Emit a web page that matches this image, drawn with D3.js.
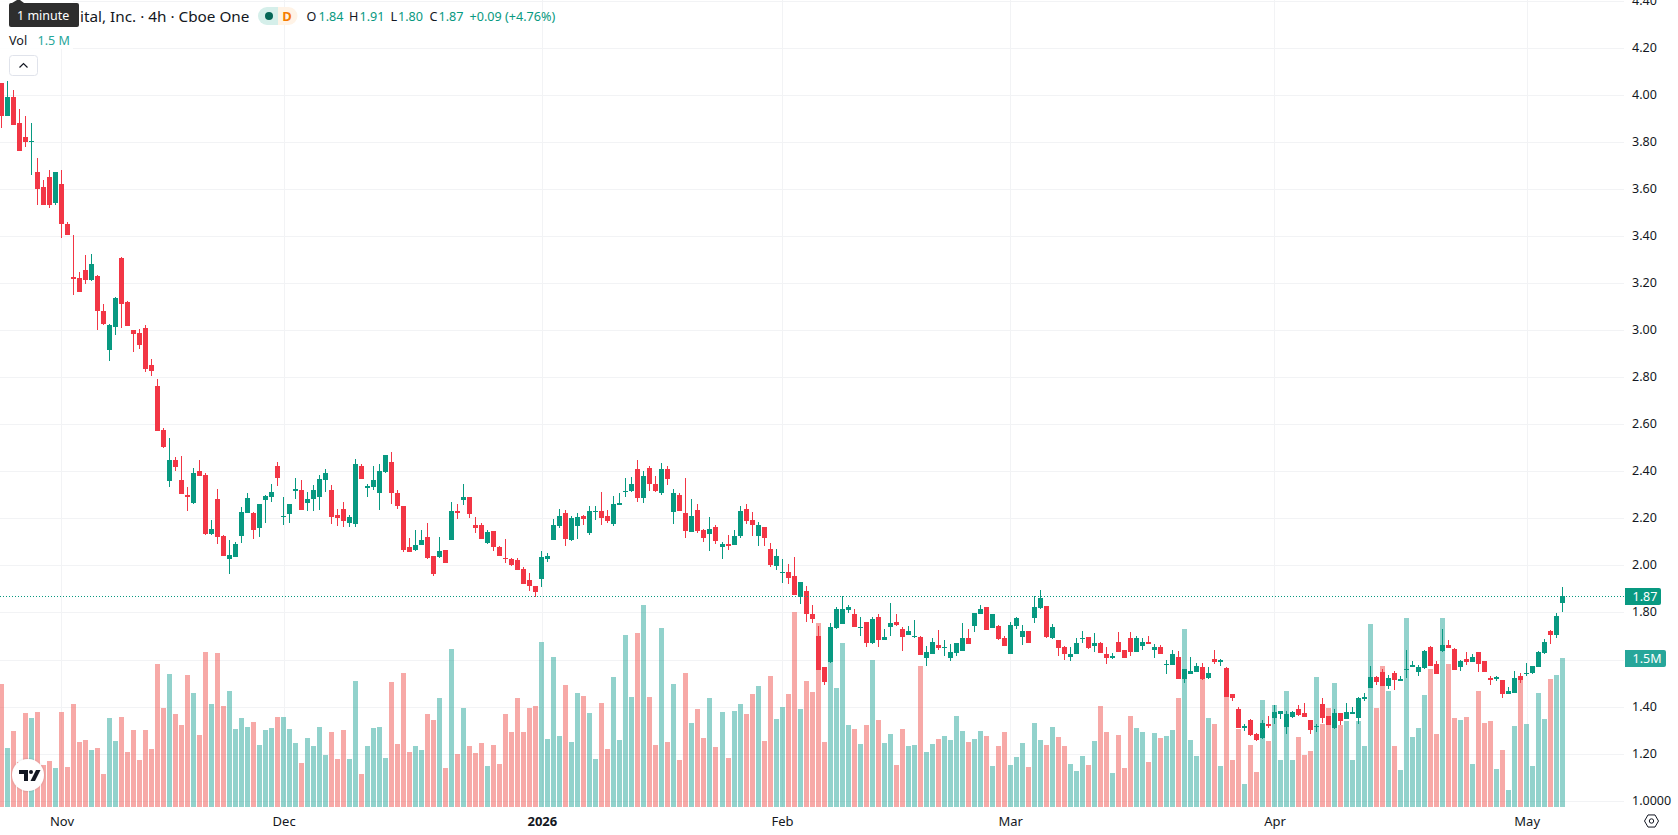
<!DOCTYPE html>
<html>
<head>
<meta charset="utf-8">
<title>4h candlestick chart</title>
<script src="https://cdn.jsdelivr.net/npm/d3@7/dist/d3.min.js"></script>
<style>
html,body{margin:0;padding:0;background:#fff;overflow:hidden}
svg{display:block;font-family:"Noto Sans",sans-serif}
</style>
</head>
<body>
<svg id="chart" width="1678" height="835"></svg>
<script>
// 4-hour session bars, oldest first
const opens = [4.05,3.91,3.99,3.88,3.82,3.80,3.67,3.61,3.65,3.54,3.62,3.45,3.225,3.22,3.255,3.213,3.23,3.081,2.915,3.013,
3.306,3.12,3.0,2.988,3.009,2.852,2.762,2.575,2.359,2.448,2.363,2.299,2.265,2.401,2.384,2.134,2.282,2.125,2.027,2.036,
2.125,2.223,2.223,2.159,2.278,2.291,2.422,2.206,2.218,2.316,2.32,2.265,2.282,2.291,2.363,2.32,2.214,2.24,2.18,2.176,
2.422,2.329,2.333,2.308,2.397,2.44,2.308,2.252,2.078,2.065,2.087,2.121,2.04,2.036,2.065,2.108,2.231,2.278,2.291,2.172,
2.172,2.095,2.146,2.078,2.032,2.027,2.023,1.985,1.938,1.912,1.942,2.027,2.108,2.167,2.223,2.108,2.167,2.21,2.138,2.227,
2.231,2.21,2.176,2.257,2.312,2.316,2.41,2.286,2.414,2.346,2.308,2.41,2.227,2.299,2.223,2.142,2.235,2.15,2.133,2.163,
2.078,2.091,2.087,2.125,2.24,2.193,2.125,2.163,2.07,1.997,1.968,1.972,1.955,1.866,1.891,1.793,1.70,1.568,1.59,1.734,
1.751,1.81,1.793,1.734,1.759,1.67,1.781,1.683,1.738,1.759,1.73,1.704,1.696,1.696,1.607,1.623,1.662,1.649,1.607,1.628,
1.636,1.691,1.742,1.793,1.823,1.734,1.742,1.691,1.623,1.742,1.696,1.721,1.776,1.819,1.827,1.691,1.683,1.653,1.611,1.623,
1.687,1.696,1.657,1.67,1.623,1.606,1.674,1.64,1.691,1.632,1.658,1.675,1.64,1.653,1.577,1.577,1.611,1.517,1.538,1.547,
1.568,1.521,1.602,1.59,1.564,1.453,1.39,1.309,1.343,1.283,1.267,1.326,1.351,1.368,1.313,1.356,1.39,1.373,1.343,1.313,
1.411,1.36,1.309,1.373,1.347,1.368,1.351,1.432,1.479,1.526,1.547,1.487,1.543,1.509,1.555,1.568,1.547,1.564,1.653,1.581,
1.636,1.662,1.645,1.568,1.602,1.59,1.632,1.594,1.521,1.517,1.513,1.453,1.458,1.53,1.54,1.543,1.568,1.628,1.721,1.704,1.84];

const closes = [3.91,3.99,3.87,3.76,3.80,3.805,3.60,3.53,3.53,3.67,3.45,3.405,3.217,3.162,3.213,3.281,3.081,3.026,3.022,3.136,
3.111,3.017,2.983,2.937,2.835,2.826,2.571,2.503,2.448,2.418,2.303,2.291,2.393,2.38,2.134,2.155,2.121,2.04,2.044,2.091,
2.227,2.286,2.15,2.261,2.296,2.312,2.371,2.21,2.261,2.325,2.236,2.282,2.32,2.367,2.393,2.206,2.202,2.189,2.206,2.431,
2.367,2.338,2.363,2.401,2.469,2.308,2.252,2.065,2.057,2.087,2.108,2.031,1.964,2.061,2.01,2.231,2.223,2.291,2.218,2.159,
2.112,2.142,2.078,2.04,2.027,2.002,1.98,1.921,1.912,1.887,2.036,2.04,2.172,2.21,2.112,2.2,2.206,2.197,2.231,2.231,
2.201,2.189,2.261,2.265,2.316,2.346,2.286,2.38,2.346,2.316,2.41,2.367,2.308,2.231,2.146,2.21,2.146,2.116,2.155,2.104,
2.091,2.082,2.125,2.231,2.189,2.172,2.172,2.116,2.002,2.04,1.972,1.946,1.874,1.93,1.793,1.772,1.555,1.504,1.738,1.815,
1.815,1.823,1.738,1.738,1.67,1.772,1.683,1.696,1.755,1.747,1.696,1.721,1.70,1.619,1.632,1.674,1.649,1.653,1.632,1.67,
1.691,1.666,1.798,1.815,1.725,1.793,1.687,1.657,1.747,1.776,1.721,1.67,1.823,1.861,1.696,1.738,1.649,1.623,1.623,1.67,
1.691,1.649,1.67,1.628,1.606,1.615,1.632,1.606,1.632,1.691,1.675,1.666,1.653,1.623,1.581,1.623,1.517,1.56,1.551,1.572,
1.517,1.543,1.59,1.598,1.441,1.437,1.309,1.318,1.279,1.258,1.33,1.317,1.377,1.381,1.368,1.377,1.364,1.356,1.30,1.317,
1.351,1.322,1.373,1.339,1.377,1.377,1.437,1.441,1.526,1.505,1.487,1.521,1.513,1.517,1.56,1.577,1.568,1.636,1.572,1.538,
1.662,1.649,1.556,1.594,1.59,1.611,1.581,1.547,1.513,1.526,1.453,1.466,1.521,1.513,1.543,1.572,1.632,1.675,1.704,1.785,1.87];

const highs = [4.05,4.06,4.02,3.94,3.91,3.88,3.73,3.64,3.68,3.67,3.68,3.46,3.404,3.247,3.32,3.323,3.234,3.11,3.025,3.14,
3.31,3.124,3.0,3.005,3.022,2.877,2.792,2.584,2.542,2.461,2.465,2.333,2.414,2.448,2.393,2.193,2.325,2.129,2.108,2.10,
2.248,2.308,2.227,2.261,2.299,2.346,2.44,2.291,2.261,2.371,2.363,2.312,2.342,2.384,2.41,2.342,2.24,2.269,2.214,2.452,
2.431,2.346,2.422,2.431,2.469,2.482,2.32,2.252,2.116,2.15,2.15,2.18,2.04,2.121,2.065,2.269,2.261,2.346,2.291,2.206,
2.18,2.15,2.146,2.082,2.112,2.03,2.03,1.993,1.968,1.912,2.061,2.053,2.197,2.24,2.235,2.21,2.223,2.214,2.252,2.252,
2.312,2.235,2.295,2.308,2.371,2.376,2.448,2.401,2.422,2.38,2.435,2.422,2.325,2.308,2.371,2.282,2.261,2.155,2.206,2.172,
2.099,2.129,2.15,2.252,2.261,2.227,2.184,2.163,2.095,2.07,2.027,2.006,2.036,1.93,1.912,1.832,1.742,1.568,1.755,1.823,
1.87,1.832,1.815,1.781,1.759,1.781,1.793,1.73,1.84,1.793,1.738,1.742,1.768,1.70,1.657,1.691,1.725,1.683,1.666,1.67,
1.755,1.73,1.798,1.832,1.823,1.793,1.747,1.70,1.759,1.781,1.747,1.721,1.87,1.895,1.827,1.751,1.683,1.657,1.653,1.691,
1.721,1.696,1.712,1.674,1.653,1.628,1.717,1.64,1.717,1.70,1.691,1.70,1.666,1.662,1.598,1.64,1.636,1.56,1.611,1.585,
1.585,1.568,1.64,1.602,1.568,1.453,1.398,1.326,1.347,1.287,1.343,1.36,1.407,1.381,1.381,1.381,1.407,1.415,1.343,1.326,
1.437,1.36,1.39,1.373,1.415,1.398,1.441,1.458,1.572,1.53,1.56,1.534,1.551,1.53,1.64,1.594,1.577,1.64,1.657,1.594,
1.73,1.683,1.649,1.598,1.632,1.623,1.632,1.594,1.53,1.53,1.513,1.483,1.551,1.543,1.585,1.572,1.636,1.687,1.725,1.798,1.91];

const lows = [3.86,3.91,3.87,3.76,3.78,3.66,3.53,3.53,3.52,3.53,3.39,3.405,3.15,3.162,3.196,3.21,3.0,3.02,2.869,2.979,
3.009,3.017,2.907,2.92,2.822,2.805,2.571,2.499,2.333,2.401,2.303,2.231,2.261,2.38,2.129,2.129,2.091,2.04,1.964,2.035,
2.095,2.223,2.112,2.121,2.18,2.269,2.337,2.172,2.18,2.282,2.236,2.231,2.231,2.236,2.312,2.176,2.167,2.163,2.163,2.163,
2.367,2.291,2.32,2.236,2.393,2.261,2.24,2.057,2.057,2.061,2.087,2.027,1.955,2.031,2.01,2.108,2.197,2.257,2.20,2.138,
2.112,2.091,2.061,2.04,2.01,1.998,1.98,1.921,1.891,1.866,1.908,2.014,2.108,2.16,2.082,2.105,2.112,2.172,2.129,2.193,
2.172,2.18,2.167,2.257,2.291,2.312,2.269,2.265,2.316,2.312,2.299,2.342,2.176,2.231,2.117,2.14,2.138,2.099,2.061,2.091,
2.027,2.065,2.087,2.116,2.176,2.125,2.082,2.082,1.993,1.98,1.925,1.921,1.874,1.836,1.76,1.755,1.555,1.492,1.585,1.73,
1.751,1.798,1.738,1.70,1.653,1.666,1.653,1.683,1.70,1.742,1.636,1.704,1.691,1.619,1.572,1.623,1.641,1.615,1.594,1.615,
1.636,1.666,1.717,1.793,1.725,1.734,1.683,1.657,1.623,1.73,1.662,1.67,1.755,1.815,1.691,1.687,1.615,1.598,1.594,1.623,
1.67,1.645,1.632,1.628,1.581,1.602,1.632,1.606,1.615,1.632,1.64,1.666,1.606,1.623,1.538,1.577,1.517,1.50,1.538,1.547,
1.513,1.517,1.581,1.572,1.441,1.424,1.309,1.296,1.275,1.254,1.262,1.31,1.326,1.347,1.283,1.351,1.36,1.356,1.283,1.292,
1.33,1.322,1.305,1.322,1.347,1.368,1.326,1.424,1.479,1.492,1.487,1.475,1.471,1.509,1.521,1.568,1.53,1.56,1.572,1.538,
1.632,1.649,1.556,1.551,1.577,1.59,1.547,1.547,1.492,1.509,1.436,1.453,1.458,1.50,1.528,1.539,1.568,1.623,1.666,1.691,1.80];

// Share volume per bar, in millions
const volumes = [1.24,0.59,0.77,0.45,0.95,0.90,0.96,0.42,0.46,0.39,0.96,0.40,1.04,0.65,0.67,0.57,0.59,0.33,0.90,0.66,
0.91,0.55,0.78,0.47,0.78,0.58,1.44,1.00,1.34,0.94,0.83,1.33,1.15,0.72,1.56,1.04,1.55,1.02,1.17,0.79,
0.90,0.81,0.86,0.62,0.78,0.80,0.91,0.91,0.79,0.64,0.44,0.69,0.61,0.81,0.52,0.76,0.48,0.78,0.48,1.27,
0.33,0.61,0.80,0.81,0.49,1.26,0.63,1.35,0.55,0.61,0.57,0.94,0.88,1.10,0.39,1.59,0.53,1.00,0.61,0.54,
0.64,0.41,0.62,0.43,0.94,0.76,1.10,0.76,1.00,1.02,1.66,0.68,1.51,0.71,1.23,0.65,1.15,1.12,0.95,0.48,
1.05,0.58,1.31,0.67,1.73,1.11,1.75,2.03,1.11,0.62,1.80,0.65,1.24,0.47,1.35,0.85,0.99,0.69,1.10,0.60,
0.96,0.49,0.97,1.04,0.94,1.14,1.22,0.66,1.32,0.89,1.01,1.14,1.96,0.99,1.27,1.16,1.85,0.65,1.46,1.20,
1.65,0.83,0.79,0.63,0.83,1.48,0.88,0.64,0.73,0.42,0.79,0.61,0.62,1.42,0.55,0.63,0.68,0.71,0.67,0.92,
0.77,0.65,0.68,0.77,0.71,0.41,0.61,0.76,0.42,0.50,0.64,0.40,0.85,0.67,0.62,0.81,0.70,0.61,0.43,0.36,
0.51,0.42,0.66,1.02,0.76,0.34,0.72,0.39,0.92,0.80,0.76,0.45,0.75,0.69,0.71,0.78,1.10,1.79,0.67,0.51,
1.29,0.90,0.84,0.41,1.40,0.47,0.79,0.23,0.62,0.35,1.08,0.66,1.03,0.47,1.17,0.47,0.70,0.52,0.56,1.31,
0.84,1.00,1.25,0.83,0.87,0.47,0.87,0.61,1.84,1.00,1.42,1.17,0.61,0.37,1.90,0.70,0.80,1.13,1.39,0.73,
1.90,1.44,0.90,0.88,0.91,0.43,1.17,0.85,0.87,0.38,0.57,0.17,0.82,1.28,0.84,0.41,1.15,0.89,1.29,1.33,1.50];

// Price axis and calendar axis
const priceTicks = [1.0,1.2,1.4,1.6,1.8,2.0,2.2,2.4,2.6,2.8,3.0,3.2,3.4,3.6,3.8,4.0,4.2,4.4];
const priceLabelTicks = priceTicks.filter(d => d !== 1.6); // the volume flag takes the 1.60 slot
const monthTicks = [10,47,90,130,168,212,254];
const monthLabels = ["Nov","Dec","2026","Feb","Mar","Apr","May"];

const GREEN = "#089981", RED = "#f23645";
const plotRight = 1624, plotBottom = 807;

const bars = opens.map((o, i) => ({ i, o, c: closes[i], h: highs[i], l: lows[i], v: volumes[i] }));

const x = d3.scaleLinear().domain([0, bars.length - 1]).range([1.4, 1562.7]);
const y = d3.scaleLinear().domain([1, 2]).range([800.7, 565.4]);
const yVol = d3.scaleLinear().domain([0, 1.5]).range([plotBottom, 658]);
const bodyW = 5;

const svg = d3.select("#chart");

// Grid sits underneath everything else
const grid = svg.append("g").attr("stroke", "#f2f3f5").attr("stroke-width", 1);
grid.selectAll("line.h").data(priceTicks).join("line").attr("class", "h")
  .attr("x1", 0).attr("x2", plotRight)
  .attr("y1", d => Math.round(y(d)) + 0.5).attr("y2", d => Math.round(y(d)) + 0.5);
grid.selectAll("line.v").data(monthTicks).join("line").attr("class", "v")
  .attr("x1", d => Math.round(x(d)) + 0.5).attr("x2", d => Math.round(x(d)) + 0.5)
  .attr("y1", 0).attr("y2", plotBottom);

// Volume histogram pinned to the bottom of the pane
svg.append("g").selectAll("rect").data(bars).join("rect")
  .attr("x", d => Math.round(x(d.i) - bodyW / 2))
  .attr("width", bodyW)
  .attr("y", d => Math.round(yVol(d.v)))
  .attr("height", d => plotBottom - Math.round(yVol(d.v)))
  .attr("fill", d => d.c >= d.o ? "rgba(38,166,154,0.5)" : "rgba(239,83,80,0.5)");

// Candles: wick first, then the body
const candles = svg.append("g").selectAll("g").data(bars).join("g")
  .attr("fill", d => d.c >= d.o ? GREEN : RED);
candles.append("rect")
  .attr("x", d => Math.round(x(d.i) - 0.5))
  .attr("width", 1)
  .attr("y", d => Math.round(y(d.h)))
  .attr("height", d => Math.max(1, Math.round(y(d.l)) - Math.round(y(d.h))));
candles.append("rect")
  .attr("x", d => Math.round(x(d.i) - bodyW / 2))
  .attr("width", bodyW)
  .attr("y", d => Math.round(y(Math.max(d.o, d.c))))
  .attr("height", d => Math.max(1, Math.round(y(Math.min(d.o, d.c))) - Math.round(y(Math.max(d.o, d.c)))));

// Last-price line
const lastBar = bars[bars.length - 1];
svg.append("line")
  .attr("x1", 0).attr("x2", plotRight + 1)
  .attr("y1", Math.round(y(lastBar.c)) + 0.5).attr("y2", Math.round(y(lastBar.c)) + 0.5)
  .attr("stroke", GREEN).attr("stroke-width", 1).attr("stroke-dasharray", "1 2");

// Price axis
const yAxis = d3.axisRight(y)
  .tickValues(priceLabelTicks)
  .tickSize(0).tickPadding(0)
  .tickFormat(d => d === 1 ? "1.0000" : d.toFixed(2));
const yAxisG = svg.append("g").attr("transform", `translate(1632,0)`).call(yAxis);
yAxisG.select(".domain").remove();
yAxisG.selectAll("text").attr("font-size", 12.5).attr("fill", "#131722")
  .attr("font-family", '"Noto Sans",sans-serif').attr("dy", "0.28em");

// Calendar axis
const xAxis = d3.axisBottom(x)
  .tickValues(monthTicks)
  .tickSize(0).tickPadding(0)
  .tickFormat(d => monthLabels[monthTicks.indexOf(d)]);
const xAxisG = svg.append("g").attr("transform", `translate(0,817)`).call(xAxis);
xAxisG.select(".domain").remove();
xAxisG.selectAll("text").attr("font-size", 13).attr("fill", "#131722")
  .attr("font-family", '"Noto Sans",sans-serif').attr("dy", "0.71em")
  .attr("font-weight", d => monthLabels[monthTicks.indexOf(d)] === "2026" ? 700 : 400);

// Value flags on the price axis
function flag(top, w, h, fill, label) {
  svg.append("path")
    .attr("d", `M1625,${top}H${1625 + w - 2}a2,2 0 0 1 2,2V${top + h - 2}a2,2 0 0 1 -2,2H1625Z`)
    .attr("fill", fill);
  svg.append("text").attr("x", 1632.5).attr("y", top + h / 2).attr("dy", "0.35em")
    .attr("font-size", 12.5).attr("fill", "#fff").text(label);
}
flag(588, 36, 17, GREEN, lastBar.c.toFixed(2));
flag(650, 41, 17, "#26a69a", "1.5M");

// Legend backdrop hides the grid behind the text
svg.append("rect").attr("x", 0).attr("y", 0).attr("width", 73).attr("height", 49).attr("fill", "#fff").attr("opacity", 0.85);

svg.append("text").attr("x", 80).attr("y", 21.5).attr("font-size", 15.3).attr("fill", "#131722")
  .text("ital, Inc. · 4h · Cboe One");

// Market status pill
svg.append("path").attr("d", "M278,7H267a9,9 0 0 0 0,18H278Z").attr("fill", "#d5efea");
svg.append("path").attr("d", "M278,7H288.5a9,9 0 0 1 0,18H278Z").attr("fill", "#fff3e6");
svg.append("circle").attr("cx", 269).attr("cy", 16).attr("r", 4).attr("fill", "#056656");
svg.append("text").attr("x", 287).attr("y", 21).attr("text-anchor", "middle").attr("font-size", 13)
  .attr("font-weight", 700).attr("fill", "#f57c00").text("D");

// OHLC readout
const ohlcLetters = ["O", "H", "L", "C"];
const ohlcValues = [lastBar.o, lastBar.h, lastBar.l, lastBar.c];
const ohlcLetterX = [306.5, 349, 390.5, 429.5];
const ohlcValueX = [318.5, 359.5, 398, 438.5];
ohlcLetters.forEach((s, k) => {
  svg.append("text").attr("x", ohlcLetterX[k]).attr("y", 21).attr("font-size", 12.6).attr("fill", "#131722").text(s);
  svg.append("text").attr("x", ohlcValueX[k]).attr("y", 21).attr("font-size", 12.6).attr("fill", GREEN).text(ohlcValues[k].toFixed(2));
});
svg.append("text").attr("x", 469.5).attr("y", 21).attr("font-size", 12.6).attr("fill", GREEN).text("+0.09 (+4.76%)");

svg.append("text").attr("x", 9).attr("y", 45).attr("font-size", 12.6).attr("fill", "#131722").text("Vol");
svg.append("text").attr("x", 37.5).attr("y", 45).attr("font-size", 12.6).attr("fill", "#26a69a").text("1.5 M");

// Collapse button
svg.append("rect").attr("x", 9.5).attr("y", 55.5).attr("width", 28).attr("height", 20).attr("rx", 3)
  .attr("fill", "#fff").attr("stroke", "#e0e3eb");
svg.append("path").attr("d", "M19.5,67.5L23.5,63.5L27.5,67.5").attr("fill", "none").attr("stroke", "#131722").attr("stroke-width", 1.2);

// Hover tooltip
svg.append("path").attr("d", "M12,3L17,0L20,0L24,3Z").attr("fill", "#2e2e2e");
svg.append("rect").attr("x", 9).attr("y", 3).attr("width", 70).attr("height", 24).attr("rx", 2).attr("fill", "#2e2e2e");
svg.append("text").attr("x", 17).attr("y", 20).attr("font-size", 12.5).attr("fill", "#fff").text("1 minute");

// Attribution badge
const defs = svg.append("defs");
const shadow = defs.append("filter").attr("id", "badgeShadow").attr("x", "-30%").attr("y", "-30%").attr("width", "160%").attr("height", "160%");
shadow.append("feDropShadow").attr("dx", 0).attr("dy", 0).attr("stdDeviation", 1).attr("flood-color", "#000").attr("flood-opacity", 0.22);
svg.append("circle").attr("cx", 28).attr("cy", 775).attr("r", 16).attr("fill", "#fff").attr("filter", "url(#badgeShadow)");
const logo = svg.append("g").attr("fill", "#131722");
logo.append("path").attr("d", "M19,770H28V781H24V774H19Z");
logo.append("circle").attr("cx", 31).attr("cy", 772).attr("r", 2);
logo.append("path").attr("d", "M36,770H40.5L35,781H30.5Z");

// Settings glyph in the axis corner
const cx = 1651.5, cy = 821, r = 7;
const hex = d3.range(6).map(k => [cx + r * Math.cos(Math.PI / 3 * k), cy + r * Math.sin(Math.PI / 3 * k)]);
svg.append("path").attr("d", d3.line()(hex) + "Z").attr("fill", "none").attr("stroke", "#131722").attr("stroke-width", 1);
svg.append("circle").attr("cx", cx).attr("cy", cy).attr("r", 2.2).attr("fill", "none").attr("stroke", "#131722").attr("stroke-width", 1);
</script>
</body>
</html>
